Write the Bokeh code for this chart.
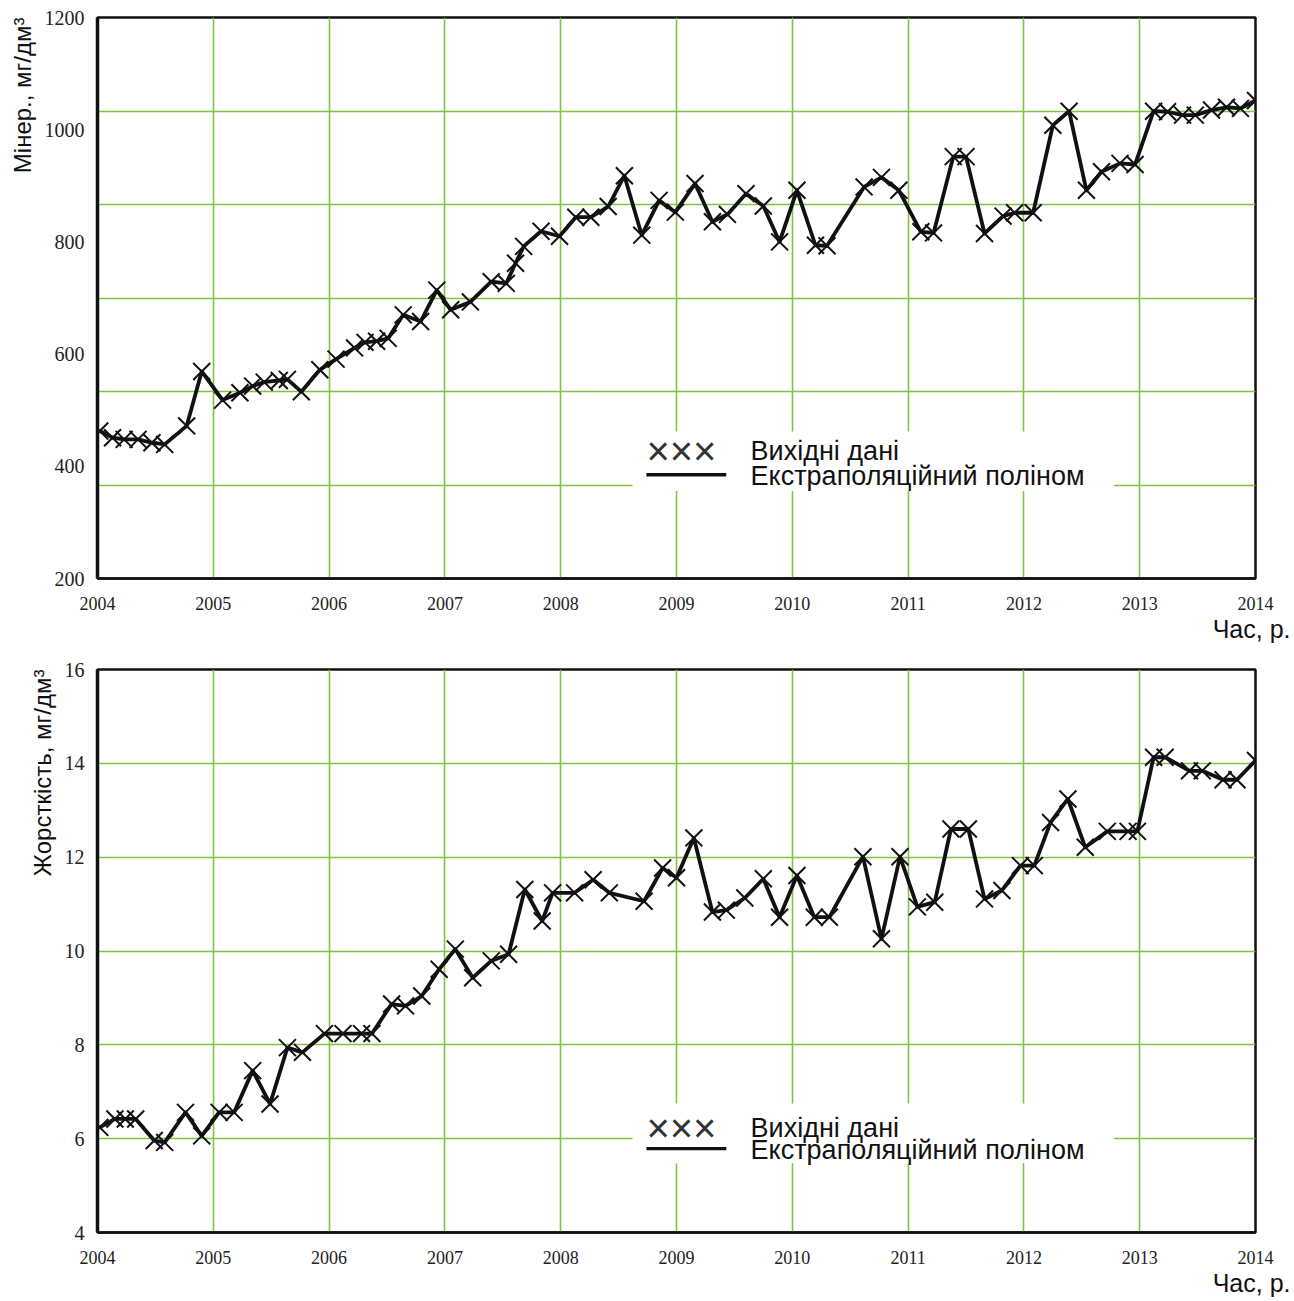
from bokeh.plotting import figure
from bokeh.models import Range1d, FixedTicker, Title, Label, BoxAnnotation
from bokeh.layouts import column
from bokeh.embed import file_html
from bokeh.resources import INLINE

# ---------------- data ----------------
x_ticks = [2004, 2005, 2006, 2007, 2008, 2009, 2010, 2011, 2012, 2013, 2014]

min_years = [2004.02, 2004.13, 2004.23, 2004.35, 2004.47, 2004.58, 2004.77, 2004.90,
             2005.08, 2005.23, 2005.34, 2005.44, 2005.57, 2005.64, 2005.76, 2005.92,
             2006.06, 2006.22, 2006.31, 2006.41, 2006.51, 2006.64, 2006.79, 2006.93,
             2007.05, 2007.22, 2007.40, 2007.53, 2007.61, 2007.68, 2007.83, 2007.99,
             2008.13, 2008.26, 2008.41, 2008.55, 2008.70, 2008.85, 2008.99,
             2009.16, 2009.31, 2009.44, 2009.60, 2009.75, 2009.89,
             2010.04, 2010.20, 2010.30, 2010.62, 2010.77, 2010.92,
             2011.11, 2011.22, 2011.39, 2011.50, 2011.66, 2011.82, 2011.92,
             2012.08, 2012.25, 2012.39, 2012.54, 2012.67, 2012.83, 2012.96,
             2013.12, 2013.24, 2013.37, 2013.48, 2013.62, 2013.75, 2013.87, 2014.0]
min_values = [463, 451, 448, 448, 442, 439, 472, 569,
              518, 531, 543, 550, 553, 555, 533, 572,
              591, 611, 621, 623, 628, 670, 658, 714,
              679, 693, 729, 726, 762, 792, 819, 810,
              844, 844, 863, 918, 812, 874, 853,
              904, 836, 849, 886, 864, 800,
              892, 794, 793, 898, 915, 892,
              818, 816, 952, 952, 815, 846, 852,
              852, 1008, 1033, 892, 925, 940, 938,
              1033, 1032, 1026, 1026, 1035, 1040, 1038, 1052]
min_ticks = [200, 400, 600, 800, 1000, 1200]

hard_years = [2004.02, 2004.15, 2004.24, 2004.33, 2004.49, 2004.58, 2004.76, 2004.90,
              2005.05, 2005.18, 2005.34, 2005.49, 2005.64, 2005.77, 2005.96,
              2006.12, 2006.28, 2006.37, 2006.54, 2006.66, 2006.80, 2006.95,
              2007.09, 2007.24, 2007.40, 2007.55, 2007.69, 2007.84, 2007.93,
              2008.12, 2008.28, 2008.42, 2008.72, 2008.88,
              2009.00, 2009.15, 2009.31, 2009.43, 2009.59, 2009.75, 2009.89,
              2010.04, 2010.19, 2010.32, 2010.61, 2010.77, 2010.93,
              2011.08, 2011.23, 2011.37, 2011.52, 2011.66, 2011.81, 2011.97,
              2012.09, 2012.23, 2012.38, 2012.53, 2012.72, 2012.90, 2012.98,
              2013.12, 2013.22, 2013.43, 2013.54, 2013.72, 2013.84, 2014.0]
hard_values = [6.24, 6.42, 6.42, 6.42, 5.96, 5.92, 6.56, 6.06,
               6.56, 6.56, 7.45, 6.74, 7.94, 7.84, 8.24,
               8.24, 8.24, 8.24, 8.87, 8.83, 9.04, 9.61,
               10.04, 9.43, 9.79, 9.93, 11.31, 10.64, 11.24,
               11.24, 11.52, 11.24, 11.06, 11.77,
               11.56, 12.41, 10.83, 10.87, 11.13, 11.54, 10.72,
               11.61, 10.72, 10.72, 12.01, 10.26, 12.01,
               10.94, 11.04, 12.60, 12.60, 11.11, 11.29, 11.82,
               11.82, 12.74, 13.24, 12.21, 12.55, 12.55, 12.55,
               14.13, 14.13, 13.84, 13.84, 13.65, 13.65, 14.06]
hard_ticks = [4, 6, 8, 10, 12, 14, 16]

legend_marker_text = "×××"
legend_data_text = "Вихідні дані"
legend_line_text = "Екстраполяційний поліном"
x_title = "Час, р."

GREEN = "#80c242"
SANS = "Liberation Sans"
SERIF = "Liberation Serif"


def panel(years, values, yticks, n_grid, ylabel, height, b_top, b_bottom,
          row1, row2, box_lo, box_hi):
    ylo, yhi = yticks[0], yticks[-1]
    p = figure(width=1290, height=height, output_backend="svg", toolbar_location=None,
               x_range=Range1d(x_ticks[0], x_ticks[-1]), y_range=Range1d(ylo, yhi),
               min_border_left=97, min_border_right=35,
               min_border_top=b_top, min_border_bottom=b_bottom)
    p.background_fill_color = "white"
    p.border_fill_color = "white"
    p.outline_line_color = "#111111"
    p.outline_line_width = 2.5

    # axes
    p.xaxis.ticker = FixedTicker(ticks=x_ticks)
    p.yaxis.ticker = FixedTicker(ticks=yticks)
    for ax in (p.xaxis, p.yaxis):
        ax.major_tick_line_color = None
        ax.minor_tick_line_color = None
        ax.axis_line_color = "#111111"
        ax.major_label_text_font = SERIF
        ax.major_label_text_color = "#222222"
    p.xaxis.major_label_text_font_size = "18px"
    p.yaxis.major_label_text_font_size = "20px"
    p.yaxis.axis_line_width = 3.5
    p.xaxis.axis_line_width = 2.5
    p.yaxis.major_label_standoff = 7
    p.xaxis.major_label_standoff = 12

    # grid
    p.xgrid.ticker = FixedTicker(ticks=x_ticks)
    step = (yhi - ylo) / n_grid
    p.ygrid.ticker = FixedTicker(ticks=[ylo + i * step for i in range(1, n_grid)])
    for g in (p.xgrid, p.ygrid):
        g.grid_line_color = GREEN
        g.grid_line_width = 1.6

    # titles
    p.add_layout(Title(text=ylabel, align="right", text_font=SANS,
                       text_font_size="24px", text_font_style="normal",
                       text_color="#111111", standoff=12), "left")
    p.add_layout(Title(text=x_title, align="right", text_font=SANS,
                       text_font_size="25px", text_font_style="normal",
                       text_color="#111111", offset=-35, standoff=0), "below")

    # data
    p.line(years, values, line_color="#111111", line_width=3.8, line_join="round")
    p.scatter(years, values, marker="x", size=24, line_color="#111111", line_width=2)

    # legend (custom, as in the original figure)
    span = yhi - ylo
    fy = lambda f: ylo + f * span
    px = span / 563.0
    p.add_layout(BoxAnnotation(left=2008.62, right=2012.78, bottom=fy(box_lo), top=fy(box_hi),
                               fill_color="white", fill_alpha=1.0, line_color=None))
    p.add_layout(Label(x=2008.74, y=fy(row1), text=legend_marker_text, text_font=SANS,
                       text_font_size="40px", text_baseline="middle", text_align="left",
                       text_color="#333333"))
    p.add_layout(BoxAnnotation(left=2008.74, right=2009.43,
                               bottom=fy(row2) - 1.7 * px, top=fy(row2) + 1.7 * px,
                               fill_color="#111111", fill_alpha=1.0, line_color=None))
    p.add_layout(Label(x=2009.64, y=fy(row1), text=legend_data_text, text_font=SANS,
                       text_font_size="27px", text_baseline="middle", text_align="left",
                       text_color="#111111"))
    p.add_layout(Label(x=2009.64, y=fy(row2) - 1.0 * px, text=legend_line_text, text_font=SANS,
                       text_font_size="27px", text_baseline="middle", text_align="left",
                       text_color="#111111"))
    return p


p1 = panel(min_years, min_values, min_ticks, 6, "Мінер., мг/дм³", 643, 17, 65,
           0.227, 0.185, 0.156, 0.262)
p2 = panel(hard_years, hard_values, hard_ticks, 6, "Жорсткість, мг/дм³", 654, 26, 65,
           0.186, 0.149, 0.123, 0.229)

layout = column(p1, p2, spacing=0)
open("out.html", "w").write(file_html(layout, INLINE))
